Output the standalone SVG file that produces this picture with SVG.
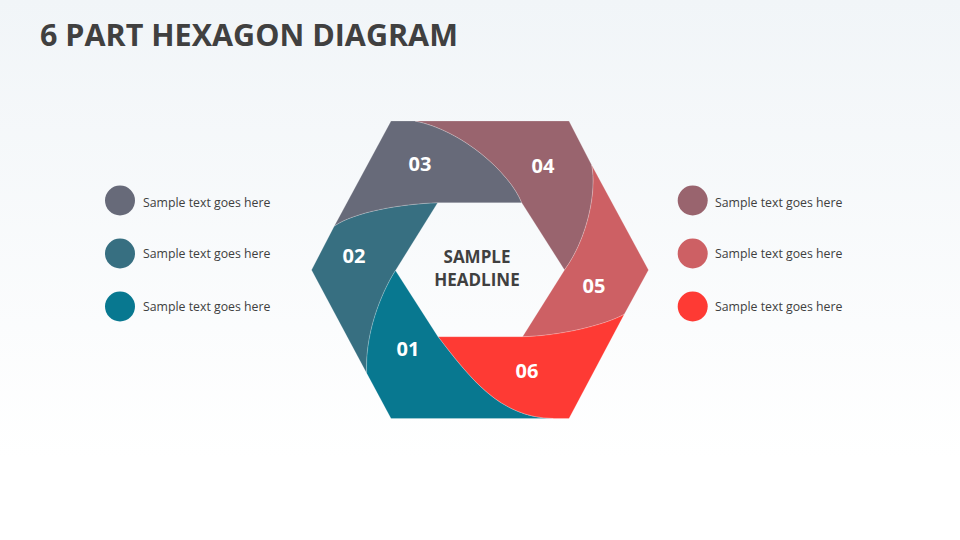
<svg xmlns="http://www.w3.org/2000/svg" width="960" height="540" viewBox="0 0 960 540">
  <defs>
    <linearGradient id="bg" x1="0" y1="0" x2="0" y2="1">
      <stop offset="0" stop-color="#F1F5F8"/>
      <stop offset="0.85" stop-color="#FFFFFF"/>
      <stop offset="1" stop-color="#FFFFFF"/>
    </linearGradient>
  </defs>
  <style>
    .title { font-family: "Open Sans", "Liberation Sans", sans-serif; font-weight: 700; font-size: 30.5px; fill: #404040; }
    .head { font-family: "Open Sans", "Liberation Sans", sans-serif; font-weight: 700; font-size: 17px; fill: #404040; text-anchor: middle; }
    .num { font-family: "Open Sans", "Liberation Sans", sans-serif; font-weight: 700; font-size: 20px; fill: #FFFFFF; text-anchor: middle; }
    .leg { font-family: "Open Sans", "Liberation Sans", sans-serif; font-size: 12.3px; fill: #404040; }
    .c1 { fill: #087890; }
    .c2 { fill: #376F81; }
    .c3 { fill: #676A79; }
    .c4 { fill: #99646E; }
    .c5 { fill: #CD6064; }
    .c6 { fill: #FE3A34; }
    .seg { stroke: #FFFFFF; stroke-opacity: 0.35; stroke-width: 0.6; }
  </style>
  <rect x="0" y="0" width="960" height="540" fill="url(#bg)"/>
  <text class="title" x="40" y="46">6 PART HEXAGON DIAGRAM</text>

  <g id="hexagon">
    <g id="seg-02">
      <path class="c2 seg" d="M334.3,226 L311.5,270 L366.7,373.3 C365,335 380,295 395.5,270.5 L437.7,202.7 C400,204 355,212 334.3,226 Z"/>
      <text class="num" x="354" y="263">02</text>
    </g>
    <g id="seg-03">
      <path class="c3 seg" d="M415,121 L391,121 L334.3,226 C355,212 400,204 437.7,202.7 L521.7,202.7 C510,173 462,130 415,121 Z"/>
      <text class="num" x="420" y="171">03</text>
    </g>
    <g id="seg-04">
      <path class="c4 seg" d="M591.7,165 L569,121 L415,121 C462,130 510,173 521.7,202.7 L564.5,270 C588,238 597,190 591.7,165 Z"/>
      <text class="num" x="543" y="173">04</text>
    </g>
    <g id="seg-05">
      <path class="c5 seg" d="M624.3,314.3 L648.5,270 L591.7,165 C597,190 588,238 564.5,270 L522.5,336.7 C560,336 605,325 624.3,314.3 Z"/>
      <text class="num" x="594" y="293">05</text>
    </g>
    <g id="seg-06">
      <path class="c6 seg" d="M553.3,418.5 L569,418.5 L624.3,314.3 C605,325 560,336 522.5,336.7 L438,336.7 C470,378 500,418 553.3,418.5 Z"/>
      <text class="num" x="527" y="378">06</text>
    </g>
    <g id="seg-01">
      <path class="c1 seg" d="M366.7,373.3 L391,418.5 L553.3,418.5 C500,418 470,378 438,336.7 L395.5,270.5 C380,295 365,335 366.7,373.3 Z"/>
      <text class="num" x="408" y="356">01</text>
    </g>
    <g id="headline">
      <text class="head" x="477" y="263">SAMPLE</text>
      <text class="head" x="477" y="286">HEADLINE</text>
    </g>
  </g>

  <g id="connectors"/>

  <g id="legend-left">
    <g id="legend-03">
      <circle class="c3" cx="120" cy="200.5" r="15"/>
      <text class="leg" x="143" y="207">Sample text goes here</text>
    </g>
    <g id="legend-02">
      <circle class="c2" cx="120" cy="253.5" r="15"/>
      <text class="leg" x="143" y="258">Sample text goes here</text>
    </g>
    <g id="legend-01">
      <circle class="c1" cx="120" cy="306.5" r="15"/>
      <text class="leg" x="143" y="311">Sample text goes here</text>
    </g>
  </g>
  <g id="legend-right">
    <g id="legend-04">
      <circle class="c4" cx="692.7" cy="200.5" r="15"/>
      <text class="leg" x="715" y="207">Sample text goes here</text>
    </g>
    <g id="legend-05">
      <circle class="c5" cx="692.7" cy="253.5" r="15"/>
      <text class="leg" x="715" y="258">Sample text goes here</text>
    </g>
    <g id="legend-06">
      <circle class="c6" cx="692.7" cy="306.5" r="15"/>
      <text class="leg" x="715" y="311">Sample text goes here</text>
    </g>
  </g>
</svg>
